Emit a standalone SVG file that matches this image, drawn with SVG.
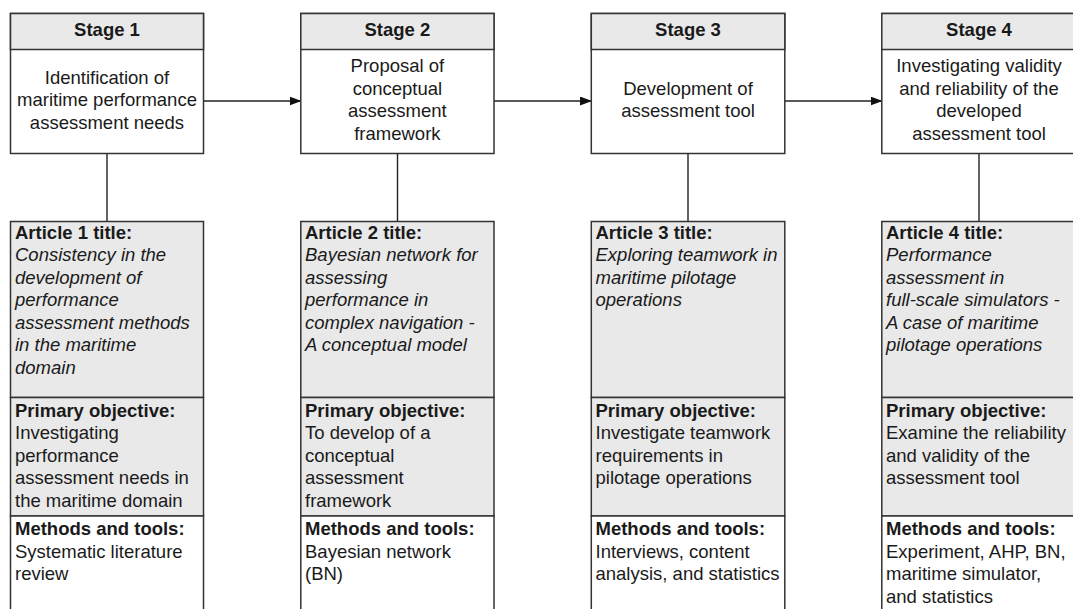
<svg xmlns="http://www.w3.org/2000/svg" width="1073" height="609" viewBox="0 0 1073 609">
<style>
.box{stroke:#333;stroke-width:1.5;}
.hd{fill:#e9e9e9;}
.wh{fill:#fff;}
.t{font-family:"Liberation Sans",Arial,sans-serif;font-size:18.5px;fill:#1a1a1a;}
.b{font-weight:bold;}
.i{font-style:italic;}
.c{text-anchor:middle;}
.ln{stroke:#222;stroke-width:1.4;fill:none;}
</style>
<defs>
<marker id="ah" markerWidth="12" markerHeight="9" refX="11" refY="4.5" orient="auto" markerUnits="userSpaceOnUse">
<path d="M0,0 L12,4.5 L0,9 Z" fill="#111"/>
</marker>
</defs>
<rect width="1073" height="609" fill="#fff"/>

<g id="connectors">
<line class="ln" x1="203.5" y1="101" x2="300.5" y2="101" marker-end="url(#ah)"/>
<line class="ln" x1="494" y1="101" x2="591" y2="101" marker-end="url(#ah)"/>
<line class="ln" x1="785" y1="101" x2="881.5" y2="101" marker-end="url(#ah)"/>
<line class="ln" x1="107" y1="153.5" x2="107" y2="221.5"/>
<line class="ln" x1="397.5" y1="153.5" x2="397.5" y2="221.5"/>
<line class="ln" x1="688" y1="153.5" x2="688" y2="221.5"/>
<line class="ln" x1="979" y1="153.5" x2="979" y2="221.5"/>
</g>

<g id="stage1">
<rect class="box wh" x="10.5" y="13.5" width="193" height="140"/>
<rect class="box hd" x="10.5" y="13.5" width="193" height="36"/>
<text class="t b c" x="107" y="36">Stage 1</text>
<text class="t c"><tspan x="107" y="83.5">Identification of</tspan><tspan x="107" y="106">maritime performance</tspan><tspan x="107" y="128.5">assessment needs</tspan></text>
</g>
<g id="stage2">
<rect class="box wh" x="300.8" y="13.5" width="193.2" height="140"/>
<rect class="box hd" x="300.8" y="13.5" width="193.2" height="36"/>
<text class="t b c" x="397.4" y="36">Stage 2</text>
<text class="t c"><tspan x="397.4" y="72">Proposal of</tspan><tspan x="397.4" y="94.5">conceptual</tspan><tspan x="397.4" y="117">assessment</tspan><tspan x="397.4" y="139.5">framework</tspan></text>
</g>
<g id="stage3">
<rect class="box wh" x="591.3" y="13.5" width="193.5" height="140"/>
<rect class="box hd" x="591.3" y="13.5" width="193.5" height="36"/>
<text class="t b c" x="688" y="36">Stage 3</text>
<text class="t c"><tspan x="688" y="94.5">Development of</tspan><tspan x="688" y="117">assessment tool</tspan></text>
</g>
<g id="stage4">
<rect class="box wh" x="881.8" y="13.5" width="194" height="140"/>
<rect class="box hd" x="881.8" y="13.5" width="194" height="36"/>
<text class="t b c" x="979" y="36">Stage 4</text>
<text class="t c"><tspan x="979" y="72">Investigating validity</tspan><tspan x="979" y="94.5">and reliability of the</tspan><tspan x="979" y="117">developed</tspan><tspan x="979" y="139.5">assessment tool</tspan></text>
</g>

<g id="article1">
<rect class="box hd" x="10.5" y="221.5" width="193" height="176"/>
<rect class="box hd" x="10.5" y="397.5" width="193" height="118.5"/>
<rect class="box wh" x="10.5" y="516" width="193" height="110"/>
<text class="t b" x="15" y="238.5">Article 1 title:</text>
<text class="t i"><tspan x="15" y="261">Consistency in the</tspan><tspan x="15" y="283.5">development of</tspan><tspan x="15" y="306">performance</tspan><tspan x="15" y="328.5">assessment methods</tspan><tspan x="15" y="351">in the maritime</tspan><tspan x="15" y="373.5">domain</tspan></text>
<text class="t b" x="15" y="416.5">Primary objective:</text>
<text class="t"><tspan x="15" y="439">Investigating</tspan><tspan x="15" y="461.5">performance</tspan><tspan x="15" y="484">assessment needs in</tspan><tspan x="15" y="506.5">the maritime domain</tspan></text>
<text class="t b" x="15" y="535">Methods and tools:</text>
<text class="t"><tspan x="15" y="557.5">Systematic literature</tspan><tspan x="15" y="580">review</tspan></text>
</g>
<g id="article2">
<rect class="box hd" x="300.8" y="221.5" width="193.2" height="176"/>
<rect class="box hd" x="300.8" y="397.5" width="193.2" height="118.5"/>
<rect class="box wh" x="300.8" y="516" width="193.2" height="110"/>
<text class="t b" x="305" y="238.5">Article 2 title:</text>
<text class="t i"><tspan x="305" y="261">Bayesian network for</tspan><tspan x="305" y="283.5">assessing</tspan><tspan x="305" y="306">performance in</tspan><tspan x="305" y="328.5">complex navigation -</tspan><tspan x="305" y="351">A conceptual model</tspan></text>
<text class="t b" x="305" y="416.5">Primary objective:</text>
<text class="t"><tspan x="305" y="439">To develop of a</tspan><tspan x="305" y="461.5">conceptual</tspan><tspan x="305" y="484">assessment</tspan><tspan x="305" y="506.5">framework</tspan></text>
<text class="t b" x="305" y="535">Methods and tools:</text>
<text class="t"><tspan x="305" y="557.5">Bayesian network</tspan><tspan x="305" y="580">(BN)</tspan></text>
</g>
<g id="article3">
<rect class="box hd" x="591.3" y="221.5" width="193.5" height="176"/>
<rect class="box hd" x="591.3" y="397.5" width="193.5" height="118.5"/>
<rect class="box wh" x="591.3" y="516" width="193.5" height="110"/>
<text class="t b" x="595.5" y="238.5">Article 3 title:</text>
<text class="t i"><tspan x="595.5" y="261">Exploring teamwork in</tspan><tspan x="595.5" y="283.5">maritime pilotage</tspan><tspan x="595.5" y="306">operations</tspan></text>
<text class="t b" x="595.5" y="416.5">Primary objective:</text>
<text class="t"><tspan x="595.5" y="439">Investigate teamwork</tspan><tspan x="595.5" y="461.5">requirements in</tspan><tspan x="595.5" y="484">pilotage operations</tspan></text>
<text class="t b" x="595.5" y="535">Methods and tools:</text>
<text class="t"><tspan x="595.5" y="557.5">Interviews, content</tspan><tspan x="595.5" y="580">analysis, and statistics</tspan></text>
</g>
<g id="article4">
<rect class="box hd" x="881.8" y="221.5" width="194" height="176"/>
<rect class="box hd" x="881.8" y="397.5" width="194" height="118.5"/>
<rect class="box wh" x="881.8" y="516" width="194" height="110"/>
<text class="t b" x="886" y="238.5">Article 4 title:</text>
<text class="t i"><tspan x="886" y="261">Performance</tspan><tspan x="886" y="283.5">assessment in</tspan><tspan x="886" y="306">full-scale simulators -</tspan><tspan x="886" y="328.5">A case of maritime</tspan><tspan x="886" y="351">pilotage operations</tspan></text>
<text class="t b" x="886" y="416.5">Primary objective:</text>
<text class="t"><tspan x="886" y="439">Examine the reliability</tspan><tspan x="886" y="461.5">and validity of the</tspan><tspan x="886" y="484">assessment tool</tspan></text>
<text class="t b" x="886" y="535">Methods and tools:</text>
<text class="t"><tspan x="886" y="557.5">Experiment, AHP, BN,</tspan><tspan x="886" y="580">maritime simulator,</tspan><tspan x="886" y="602.5">and statistics</tspan></text>
</g>
</svg>
